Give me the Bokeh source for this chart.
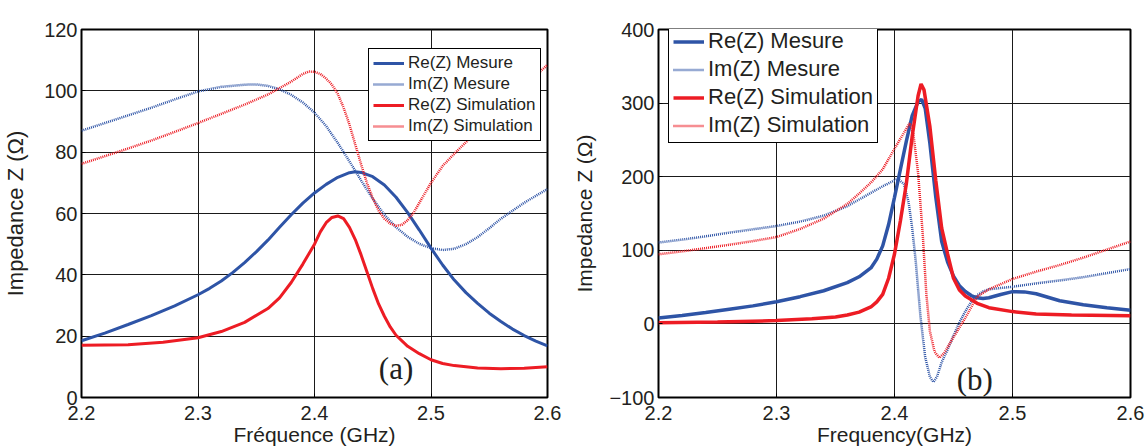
from bokeh.plotting import figure
from bokeh.models import Range1d, FixedTicker, NumeralTickFormatter, Legend, LegendItem, Label
from bokeh.layouts import row
from bokeh.embed import file_html
from bokeh.resources import INLINE

# ---------------- data: panel (a) ----------------
a_f_re_mes = [2.20, 2.22, 2.24, 2.26, 2.28, 2.30, 2.31, 2.32, 2.33, 2.34, 2.35, 2.36, 2.37, 2.38, 2.39, 2.40,
              2.41, 2.42, 2.43, 2.435, 2.44, 2.45, 2.46, 2.47, 2.48, 2.49, 2.50, 2.51, 2.52, 2.53, 2.54,
              2.55, 2.56, 2.57, 2.58, 2.59, 2.60]
a_re_mes = [18.5, 21, 23.8, 26.7, 29.9, 33.5, 35.6, 38, 40.8, 44, 47.5, 51.3, 55.5, 59.6, 63.4, 66.7,
            69.5, 71.8, 73.3, 73.6, 73.4, 72.0, 69.3, 65.3, 60.3, 54.6, 48.7, 43.2, 38.3, 34.2, 30.7,
            27.5, 24.8, 22.3, 20.2, 18.4, 16.8]

a_f_im_mes = [2.20, 2.22, 2.24, 2.26, 2.28, 2.30, 2.32, 2.34, 2.35, 2.36, 2.37, 2.38, 2.39, 2.40, 2.41, 2.42,
              2.43, 2.44, 2.45, 2.46, 2.47, 2.48, 2.49, 2.50, 2.51, 2.52, 2.53, 2.54, 2.55, 2.56, 2.58, 2.60]
a_im_mes = [87, 89.5, 92, 94.5, 97.2, 99.8, 101.3, 102, 102.1, 101.6, 100.5, 98.7, 96.2, 92.9, 88.5, 83,
            77, 70.8, 64.8, 59.6, 55.5, 52.4, 50.1, 48.7, 48.1, 48.5, 50, 52.3, 55.2, 58.3, 63.5, 68]

a_f_re_sim = [2.20, 2.24, 2.27, 2.30, 2.32, 2.34, 2.36, 2.37, 2.38, 2.39, 2.40, 2.405, 2.41, 2.415, 2.42,
              2.425, 2.43, 2.435, 2.44, 2.445, 2.45, 2.455, 2.46, 2.465, 2.47, 2.48, 2.49, 2.50, 2.51,
              2.52, 2.54, 2.56, 2.58, 2.60]
a_re_sim = [17, 17.2, 18, 19.5, 21.5, 24.5, 29, 32.5, 37.5, 43.5, 50, 54, 57, 58.7, 59.2,
            58.3, 55.5, 51.5, 46.5, 41, 35.5, 30.5, 26.5, 23, 20.3, 16.7, 14.3, 12.3, 11.1,
            10.4, 9.6, 9.4, 9.5, 10]

a_f_im_sim = [2.20, 2.22, 2.24, 2.26, 2.28, 2.30, 2.32, 2.34, 2.36, 2.38, 2.39, 2.395, 2.40, 2.405, 2.41,
              2.415, 2.42, 2.425, 2.43, 2.435, 2.44, 2.445, 2.45, 2.455, 2.46, 2.465, 2.47, 2.475, 2.48,
              2.485, 2.49, 2.50, 2.51, 2.52, 2.54, 2.56, 2.58, 2.60]
a_im_sim = [76.2, 78.7, 81.2, 83.8, 86.6, 89.5, 92.5, 95.5, 98.8, 103, 105.5, 106.3, 106.2, 105.5, 104,
            102, 99, 94.5, 89, 82.5, 76, 70, 65, 61, 58.3, 56.7, 56, 56.3, 57.8,
            60.2, 63.5, 70, 75.5, 79.5, 87, 94.5, 101.5, 108.5]

# ---------------- data: panel (b) ----------------
b_f_re_mes = [2.20, 2.22, 2.24, 2.26, 2.28, 2.30, 2.32, 2.34, 2.36, 2.37, 2.38, 2.385, 2.39, 2.395, 2.40,
              2.405, 2.41, 2.415, 2.42, 2.423, 2.426, 2.43, 2.435, 2.44, 2.445, 2.45, 2.455, 2.46, 2.465,
              2.47, 2.475, 2.48, 2.49, 2.50, 2.51, 2.52, 2.54, 2.56, 2.58, 2.60]
b_re_mes = [8, 11.5, 15.5, 20, 24.5, 30, 37, 45, 56, 64, 76, 88, 106, 135, 172,
            210, 248, 283, 302, 305, 293, 245, 172, 112, 84, 65, 52, 44, 38.5,
            35.5, 34.5, 35.5, 40, 43.8, 43.5, 41, 31.5, 26, 22, 18.5]

b_f_im_mes = [2.20, 2.22, 2.24, 2.26, 2.28, 2.30, 2.32, 2.34, 2.36, 2.38, 2.39, 2.40, 2.403, 2.408, 2.412,
              2.415, 2.418, 2.422, 2.426, 2.43, 2.433, 2.436, 2.44, 2.445, 2.45, 2.455, 2.46, 2.465, 2.47,
              2.475, 2.48, 2.50, 2.52, 2.54, 2.56, 2.58, 2.60]
b_im_mes = [110.5, 114.5, 119, 124, 128.5, 133, 139, 147, 160, 178, 187, 195, 197, 190, 165,
            130, 85, 10, -45, -72, -79, -72, -52, -35, -16, 2, 17, 30, 39,
            44, 47, 50.5, 55, 59, 63.5, 69, 74.5]

b_f_re_sim = [2.20, 2.25, 2.30, 2.33, 2.35, 2.36, 2.37, 2.38, 2.385, 2.39, 2.395, 2.40, 2.405, 2.41, 2.415,
              2.42, 2.4225, 2.425, 2.43, 2.435, 2.44, 2.445, 2.45, 2.455, 2.46, 2.47, 2.48, 2.50, 2.52,
              2.55, 2.60]
b_re_sim = [1.5, 2.5, 4.5, 7, 9.5, 12, 16, 23, 30, 40, 62, 95, 140, 190, 255,
            310, 326, 318, 268, 195, 130, 95, 62, 46, 38, 28, 22, 16.7, 13.5,
            12, 11]

b_f_im_sim = [2.20, 2.22, 2.24, 2.26, 2.28, 2.30, 2.32, 2.34, 2.36, 2.37, 2.38, 2.39, 2.40, 2.41, 2.413,
              2.416, 2.42, 2.424, 2.427, 2.43, 2.434, 2.438, 2.442, 2.45, 2.46, 2.47, 2.48, 2.50, 2.52,
              2.54, 2.56, 2.58, 2.60]
b_im_sim = [94.5, 98.5, 103, 107.5, 112.5, 118, 129, 143, 163, 177, 192, 210, 238, 265, 273,
            258, 205, 120, 40, -10, -38, -46, -40, -18, 8, 37, 47, 61, 71,
            80, 90, 101, 112]

x_ticks = [2.2, 2.3, 2.4, 2.5, 2.6]
a_y_ticks = [0, 20, 40, 60, 80, 100, 120]
b_y_ticks = [-100, 0, 100, 200, 300, 400]
labels = ["Re(Z) Mesure", "Im(Z) Mesure", "Re(Z) Simulation", "Im(Z) Simulation"]

BLUE = "#2E54A6"
RED = "#ED1C24"
TXT = "#231F20"
SANS = "Liberation Sans"


def make_fig(width, height, borders, yr, yticks, xlabel, ylab_size, ylab_standoff, series, lw,
             leg_font, leg_loc, leg_cfg, tag, tag_xy):
    left, right, top, bottom = borders
    p = figure(width=width, height=height, output_backend="svg", toolbar_location=None,
               x_range=Range1d(2.2, 2.6), y_range=Range1d(*yr),
               min_border_left=left, min_border_right=right, min_border_top=top, min_border_bottom=bottom,
               background_fill_color="white", border_fill_color="white")
    p.outline_line_color = "black"
    p.outline_line_width = 2
    p.outline_line_alpha = 1

    p.xaxis.ticker = FixedTicker(ticks=x_ticks)
    p.xaxis.formatter = NumeralTickFormatter(format="0.0")
    p.yaxis.ticker = FixedTicker(ticks=yticks)
    for ax in (p.xaxis, p.yaxis):
        ax.axis_line_color = None
        ax.major_tick_in = 4
        ax.major_tick_out = 0
        ax.minor_tick_in = 0
        ax.minor_tick_out = 0
        ax.major_tick_line_color = "black"
        ax.major_label_text_font = SANS
        ax.major_label_text_font_size = "20px"
        ax.major_label_text_color = TXT
        ax.axis_label_text_font = SANS
        ax.axis_label_text_font_style = "normal"
        ax.axis_label_text_color = TXT
    p.xaxis.axis_label_text_font_size = "21px"
    p.yaxis.axis_label_text_font_size = ylab_size
    p.xaxis.axis_label = xlabel
    p.yaxis.axis_label = "Impedance Z (\u03a9)"
    p.xaxis.major_label_standoff = 8
    p.xaxis.axis_label_standoff = 0
    p.yaxis.major_label_standoff = 4
    p.yaxis.axis_label_standoff = ylab_standoff

    for g in (p.xgrid, p.ygrid):
        g.grid_line_color = "#1a1a1a"
        g.grid_line_width = 1
        g.grid_line_alpha = 1

    items = []
    for (fx, fy, color, dashed), lab in zip(series, labels):
        if dashed:
            r = p.line(fx, fy, line_color=color, line_width=2.5, line_dash="1 1", line_alpha=1)
        else:
            r = p.line(fx, fy, line_color=color, line_width=lw)
        items.append(LegendItem(label=lab, renderers=[r]))

    pad, spacing, lh = leg_cfg
    leg = Legend(items=items, location=leg_loc, margin=0, padding=pad, spacing=spacing,
                 glyph_width=31, glyph_height=lh, label_height=lh, label_standoff=4,
                 label_text_font=SANS, label_text_font_size=leg_font, label_text_color=TXT,
                 border_line_color="black", border_line_width=1.5, border_line_alpha=1,
                 background_fill_color="white", background_fill_alpha=1)
    p.add_layout(leg)

    p.add_layout(Label(x=tag_xy[0], y=tag_xy[1], text=tag, text_font="Liberation Serif",
                       text_font_size="31px", text_color=TXT, text_align="center",
                       text_baseline="middle"))
    return p


p1 = make_fig(570, 448, (78, 23, 29, 49), (0, 120), a_y_ticks, "Fr\u00e9quence (GHz)", "22px", 13,
              [(a_f_re_mes, a_re_mes, BLUE, False), (a_f_im_mes, a_im_mes, BLUE, True),
               (a_f_re_sim, a_re_sim, RED, False), (a_f_im_sim, a_im_sim, RED, True)],
              3, "17px", (287, 256), (4, 1, 20), "(a)", (2.47, 9.5))

p2 = make_fig(578, 448, (82, 18, 19, 51), (-100, 400), b_y_ticks, "Frequency(GHz)", "21px", 10,
              [(b_f_re_mes, b_re_mes, BLUE, False), (b_f_im_mes, b_im_mes, BLUE, True),
               (b_f_re_sim, b_re_sim, RED, False), (b_f_im_sim, b_im_sim, RED, True)],
              3.5, "22px", (10, 254), (4, 2, 25), "(b)", (2.468, -75))

layout = row(p1, p2)
open("out.html", "w").write(file_html(layout, INLINE))
